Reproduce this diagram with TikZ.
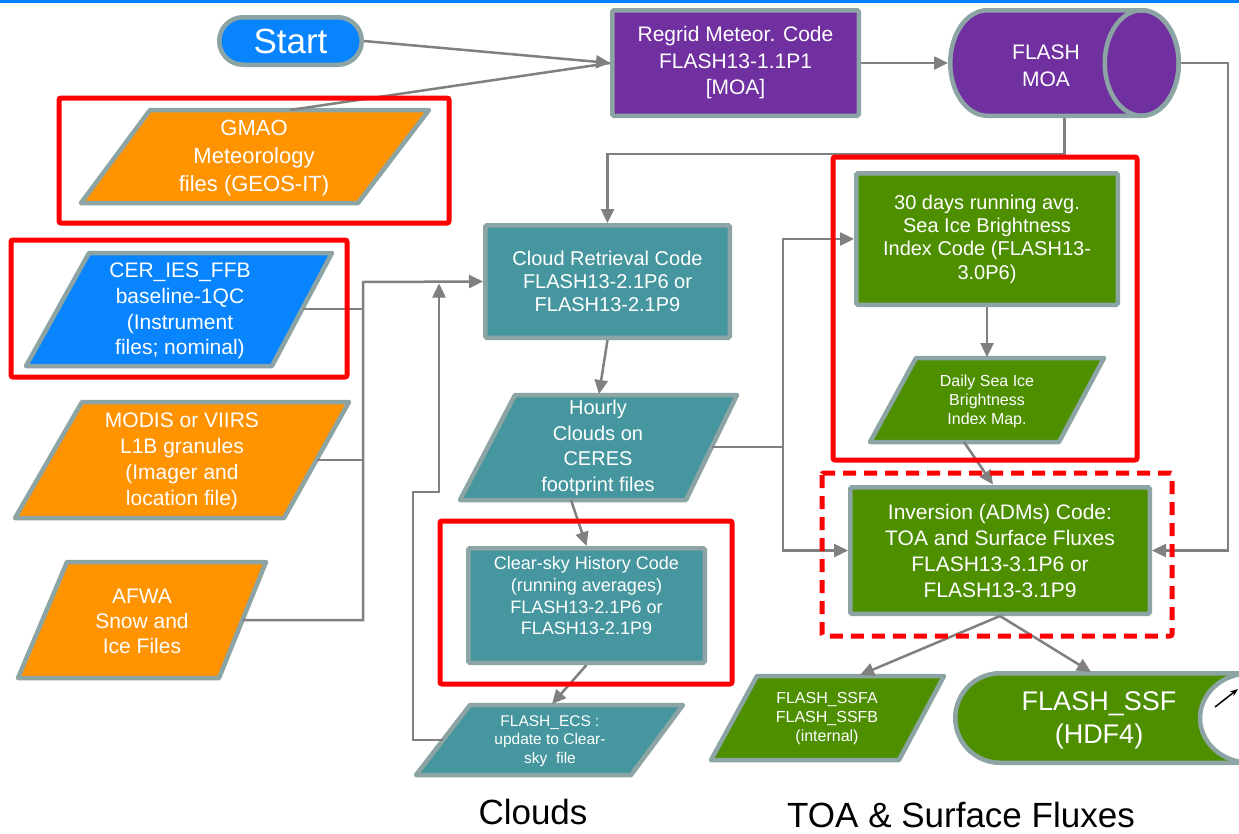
\documentclass[tikz,border=0pt]{standalone}
\usepackage{fontspec}
\setmainfont{Liberation Sans}
\usetikzlibrary{arrows.meta}
\definecolor{topblue}{RGB}{0,128,255}
\definecolor{sblue}{RGB}{8,132,255}
\definecolor{purp}{RGB}{112,48,160}
\definecolor{orng}{RGB}{255,147,0}
\definecolor{tealc}{RGB}{69,150,158}
\definecolor{grn}{RGB}{78,143,0}
\definecolor{bord}{RGB}{140,164,164}
\definecolor{conn}{RGB}{128,128,128}
\newcommand\fs[2]{\fontsize{#1}{#2}\selectfont}
\begin{document}
\begin{tikzpicture}[x=1pt,y=-1pt,
 box/.style={draw=bord, line width=4.5pt, rounded corners=1.5pt, inner sep=0pt, text=white, align=center},
 pgm/.style={draw=bord, line width=4.5pt, line join=round},
 txt/.style={text=white, align=center, inner sep=0pt},
 redbox/.style={draw=red, line width=5pt, rounded corners=2pt},
 ln/.style={draw=conn, line width=2.5pt},
 arr/.style={ln, -{Triangle[length=14pt,width=13pt]}},
 lbl/.style={text=black, inner sep=0pt, font=\fs{35}{40}},
]
\useasboundingbox (0,0) rectangle (1239,833);
\clip (0,0) rectangle (1239,833);
\fill[white] (0,0) rectangle (1239,833);
\fill[topblue] (0,0) rectangle (1239,3);

% ---------- top row
\node[box, fill=sblue, rounded corners=23.75pt, minimum width=142.5, minimum height=47.5, font=\fs{35}{40}] (start) at (290.5,41) {Start};
\node[box, fill=purp, minimum width=246.5, minimum height=105.5, font=\fs{21}{26.5}] (regrid) at (735.5,63) {Regrid Meteor. Code\\FLASH13-1.1P1\\{[MOA]}};

% cylinder FLASH MOA
\filldraw[draw=bord, fill=purp, line width=4.5pt] (1141.75,10.25) -- (987.25,10.25)
  arc[start angle=270, end angle=90, x radius=37, y radius=52.75] -- (1141.75,115.75)
  arc[start angle=90, end angle=-90, x radius=37, y radius=52.75] -- cycle;
\draw[draw=bord, line width=4.5pt] (1141.75,63) ellipse[x radius=37, y radius=52.75];
\node[minimum width=233, minimum height=110, inner sep=0pt, outer sep=0pt] (moa) at (1064.5,63) {};
\node[txt, font=\fs{21}{27}] (moatext) at (1046,66) {FLASH\\MOA};

% ---------- inputs (parallelograms)
\filldraw[pgm, fill=orng] (150,110) -- (429,110) -- (358,203) -- (81,203) -- cycle;
\node[txt, font=\fs{22}{28}] (gmao) at (254,158) {GMAO\\Meteorology\\files (GEOS-IT)};
\coordinate (gmao-t) at (290,110);

\filldraw[pgm, fill=sblue] (89,253) -- (332,253) -- (272,366) -- (26,366) -- cycle;
\node[txt, font=\fs{21}{25.7}] (cer) at (180,311) {CER\_IES\_FFB\\baseline-1QC\\(Instrument\\files; nominal)};
\coordinate (cer-r) at (303,309);

\filldraw[pgm, fill=orng] (82,402) -- (349,402) -- (284,518) -- (15,518) -- cycle;
\node[txt, font=\fs{21}{26}] (modis) at (182,461) {MODIS or VIIRS\\L1B granules\\(Imager and\\location file)};
\coordinate (modis-r) at (316.5,460);

\filldraw[pgm, fill=orng] (67,562) -- (266,562) -- (219,678) -- (18,678) -- cycle;
\node[txt, font=\fs{21}{25}] (afwa) at (142,621) {AFWA\\Snow and\\Ice Files};
\coordinate (afwa-r) at (242.5,620);

% ---------- clouds column
\node[box, fill=tealc, minimum width=244.5, minimum height=112.5, font=\fs{20}{23.3}] (cloud) at (607.5,281.5) {Cloud Retrieval Code\\FLASH13-2.1P6 or\\FLASH13-2.1P9};

\filldraw[pgm, fill=tealc] (515,395) -- (737,395) -- (686,500) -- (460,500) -- cycle;
\node[txt, font=\fs{20}{25.6}] (hourly) at (598,448) {Hourly\\Clouds on\\CERES\\footprint files};
\coordinate (hourly-t) at (599,394);
\coordinate (hourly-b) at (571,500);
\coordinate (hourly-r) at (711.5,447);

\node[box, fill=tealc, minimum width=236.5, minimum height=114.5] (clear) at (586.5,605.5) {};
\node[txt, font=\fs{18}{21.7}] (cleartxt) at (586.5,596) {Clear-sky History Code\\(running averages)\\FLASH13-2.1P6 or\\FLASH13-2.1P9};

\filldraw[pgm, fill=tealc] (470,705) -- (683,705) -- (631,775) -- (416,775) -- cycle;
\node[txt, font=\fs{15.5}{18.3}] (ecs) at (550,741) {FLASH\_ECS :\\update to Clear-\\sky\ \ file};
\coordinate (ecs-t) at (552,704);
\coordinate (ecs-l) at (443,740);

% ---------- fluxes column
\node[box, fill=grn, minimum width=261.5, minimum height=131.5, font=\fs{20}{23.4}] (days) at (987,239) {30 days running avg.\\ Sea Ice Brightness\\Index Code (FLASH13-\\3.0P6)};

\filldraw[pgm, fill=grn] (916,358) -- (1104,358) -- (1059,442) -- (870,442) -- cycle;
\node[txt, font=\fs{16}{19}] (daily) at (987,401) {Daily Sea Ice\\Brightness\\Index Map.};
\coordinate (daily-t) at (987,357);
\coordinate (daily-b) at (964,442);

\node[box, fill=grn, minimum width=299.5, minimum height=126.5, font=\fs{21}{26}] (inv) at (1000,550.5) {Inversion (ADMs) Code:\\TOA and Surface Fluxes\\FLASH13-3.1P6 or\\FLASH13-3.1P9};
\coordinate (inv-t) at (993,484.5);

\filldraw[pgm, fill=grn] (757,676) -- (944,676) -- (899,760) -- (711,760) -- cycle;
\node[txt, font=\fs{16}{19}] (ssfa) at (827,719) {FLASH\_SSFA\\FLASH\_SSFB\\(internal)};
\coordinate (ssfa-t) at (860,675);

% FLASH_SSF stored data shape
\filldraw[draw=bord, fill=grn, line width=4.5pt] (1260,673.25) -- (1000,673.25)
  arc[start angle=270, end angle=90, radius=44.75] -- (1260,762.75) -- cycle;
\filldraw[draw=bord, fill=white, line width=4.5pt] (1250,718) ellipse[x radius=50, y radius=44.75];
\draw[line width=1.5pt, -{Stealth[length=8pt,width=6pt]}] (1215,707) -- (1238,689);
\node[txt, font=\fs{27}{33}] (ssf) at (1099,720) {FLASH\_SSF\\(HDF4)};
\coordinate (ssf-t) at (1091,672);

% ---------- connectors
\draw[arr] (start.east) -- (regrid.west);
\draw[ln] (gmao-t) -- (regrid.west);
\draw[arr] (regrid.east) -- (moa.west);
\draw[arr] (moa.east) -- (1228,63) |- (inv.east);
\draw[arr] (moa.south) -- ++(0,36) -| (cloud.north);

\coordinate (bus) at (363,282);
\draw[ln] (cer-r) -- (cer-r -| bus);
\draw[ln] (modis-r) -- (modis-r -| bus);
\draw[arr] (afwa-r) -| (bus) -- (cloud.west);
\draw[arr] (ecs-l) -| (413,492) -- (439,492) -- (439,283.5);

\draw[arr] (cloud.south) -- (hourly-t);
\coordinate (vb) at (783,447);
\draw[ln] (hourly-r) -- (vb);
\draw[arr] (vb) |- (days.west);
\draw[arr] (vb) |- (inv.west);
\draw[arr] (hourly-b) -- (clear.north);
\draw[arr] (clear.south) -- (ecs-t);

\draw[arr] (days.south) -- (daily-t);
\draw[arr] (daily-b) -- (inv-t);
\draw[arr] (inv.south) -- (ssfa-t);
\draw[arr] (inv.south) -- (ssf-t);

% ---------- red highlight boxes
\draw[redbox] (59,98) rectangle (449,223);
\draw[redbox] (11,240) rectangle (347,377);
\draw[redbox] (440,521) rectangle (732,684);
\draw[redbox] (833,157) rectangle (1137,460);
\draw[redbox, dash pattern=on 13pt off 8pt] (822,473) rectangle (1172,636);

% ---------- section labels
\node[lbl] (lclouds) at (533,812) {Clouds};
\node[lbl] (lfluxes) at (961,815) {TOA \& Surface Fluxes};
\end{tikzpicture}
\end{document}
